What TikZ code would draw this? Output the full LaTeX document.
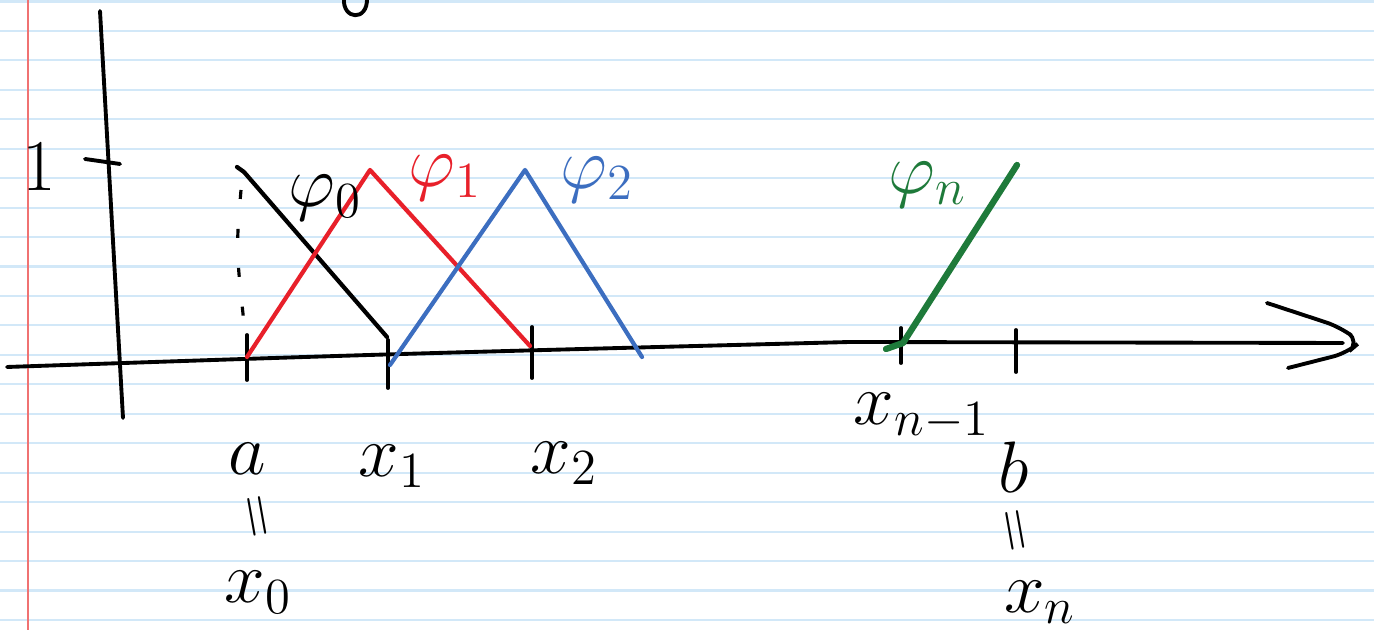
\documentclass[tikz,border=0pt]{standalone}
\usepackage{amsmath}
\usetikzlibrary{calc}
\definecolor{ruleblue}{HTML}{D2E8F8}
\definecolor{marginred}{HTML}{F07272}
\definecolor{phired}{HTML}{E8202A}
\definecolor{phiblue}{HTML}{3C6EC0}
\definecolor{phigreen}{HTML}{1E7A3A}

\begin{document}
\begin{tikzpicture}[
    rule/.style={line width=0.6pt, ruleblue},
    ax/.style={line width=1.1pt, black, line cap=round},
    tck/.style={line width=1.1pt, black, line cap=round},
    hat/.style={line width=1.2pt, line cap=round, line join=round},
    lbl/.style={font=\huge, inner sep=0pt},
    eqs/.style={font=\LARGE, inner sep=0pt, rotate=-80},
]
\useasboundingbox (0,0) rectangle (13.74,6.30);
\fill[white] (0,0) rectangle (13.74,6.30);

% --- Paper ---
\foreach \k in {0,...,21} {
    \draw[rule] (0,{6.285-0.2945*\k}) -- (13.74,{6.285-0.2945*\k});
}
\draw[line width=0.8pt, marginred] (0.28,0) -- (0.28,6.30);

% cut-off stroke at the top
\draw[ax] (3.44,6.32) .. controls (3.42,6.10) and (3.68,6.08) .. (3.67,6.32);

% --- Axes ---
\coordinate (ytop) at (1.00,6.19);
\coordinate (ybot) at (1.23,2.12);
\draw[ax] (ytop) -- (ybot);

\coordinate (xleft) at (0.07,2.63);
\coordinate (xmid) at (8.50,2.88);
\coordinate (xright) at (13.43,2.87);
\draw[ax] (xleft) .. controls (3.88,2.76) .. (xmid) -- (xright);
\draw[ax, rounded corners=4pt] (12.67,3.27) -- (13.40,3.03) -- (13.60,2.88)
    -- (13.47,2.77) -- (12.88,2.62);

% y = 1
\draw[ax] (0.85,4.71) -- (1.20,4.66);
\node[lbl] (one) at (0.39,4.63) {$1$};

% --- Ticks ---
\coordinate (x0) at (2.47,2.73);
\coordinate (x1) at (3.88,2.76);
\coordinate (x2) at (5.32,2.82);
\coordinate (xn1) at (9.01,2.87);
\coordinate (xn) at (10.16,2.87);
\foreach \p/\up/\dn in {x0/0.22/0.23, x1/0.14/0.34, x2/0.21/0.30, xn1/0.15/0.20, xn/0.13/0.29} {
    \draw[tck] ($(\p)+(0,\up)$) -- ($(\p)-(0,\dn)$);
}

% --- Hat functions ---
\coordinate (top0) at (2.37,4.63);
\coordinate (top1) at (3.70,4.60);
\coordinate (top2) at (5.25,4.60);
\coordinate (topn) at (10.17,4.65);

\draw[black, line width=0.9pt, dash pattern=on 0.09cm off 0.3cm]
    (2.41,4.40) .. controls (2.36,3.80) .. (2.45,2.98);
\draw[hat, black] (top0) -- (2.44,4.58) -- (3.87,2.93);
\draw[hat, phired] (x0) -- (top1) -- (5.30,2.84);
\draw[hat, phiblue] (3.90,2.65) -- (top2) -- (6.42,2.73);
\draw[hat, phigreen, line width=1.8pt] (8.86,2.81) -- (9.03,2.87) -- (topn);

% --- Labels ---
\node[lbl] (phi0) at (3.25,4.32) {$\varphi_0$};
\node[lbl, text=phired] (phi1) at (4.45,4.52) {$\varphi_1$};
\node[lbl, text=phiblue] (phi2) at (5.97,4.50) {$\varphi_2$};
\node[lbl, text=phigreen] (phin) at (9.28,4.45) {$\varphi_n$};

\node[lbl] (la) at (2.47,1.71) {$a$};
\node[eqs] (eqa) at (2.53,1.13) {$=$};
\node[lbl] (lx0) at (2.58,0.38) {$x_0$};
\node[lbl] (lx1) at (3.92,1.64) {$x_1$};
\node[lbl] (lx2) at (5.64,1.67) {$x_2$};
\node[lbl] (lxn1) at (9.22,2.14) {$x_{n-1}$};
\node[lbl] (lb) at (10.14,1.63) {$b$};
\node[eqs] (eqb) at (10.11,0.99) {$=$};
\node[lbl] (lxn) at (10.40,0.28) {$x_n$};

\end{tikzpicture}
\end{document}
